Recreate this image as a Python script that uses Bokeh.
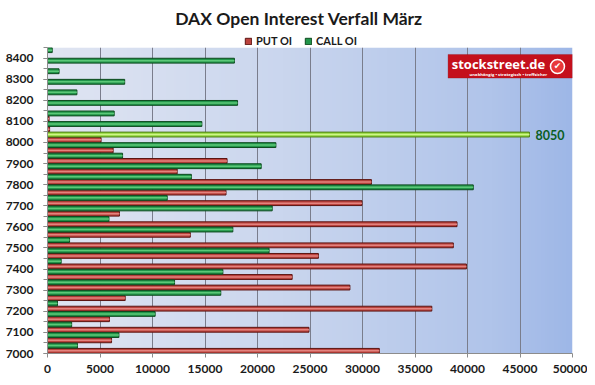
import numpy as np
from bokeh.plotting import figure
from bokeh.layouts import column
from bokeh.models import (ColumnDataSource, FixedTicker, Legend, LegendItem, Label,
                          BoxAnnotation, NumeralTickFormatter, Range1d)
from bokeh.transform import dodge
from bokeh.embed import file_html
from bokeh.resources import INLINE

# ---------------- data ----------------
strikes = [7000, 7050, 7100, 7150, 7200, 7250, 7300, 7350, 7400, 7450,
           7500, 7550, 7600, 7650, 7700, 7750, 7800, 7850, 7900, 7950,
           8000, 8050, 8100, 8150, 8200, 8250, 8300, 8350, 8400, 8450]
put_oi = [31600, 6100, 24900, 5900, 36600, 7400, 28800, 23300, 39900, 25800,
          38650, 13600, 39000, 6850, 29950, 17000, 30850, 12350, 17100, 6250,
          5100, 200, 150, 0, 0, 0, 0, 0, 0, 0]
call_oi = [11800, 2850, 6800, 2300, 10250, 950, 16500, 12100, 16700, 1300,
           21100, 2100, 17650, 5850, 21400, 11400, 40550, 13700, 20350, 7150,
           21750, 45900, 14700, 6350, 18100, 2800, 7350, 1100, 17800, 450]
x_ticks = [0, 5000, 10000, 15000, 20000, 25000, 30000, 35000, 40000, 45000, 50000]
y_label_ticks = [7000, 7100, 7200, 7300, 7400, 7500, 7600, 7700, 7800, 7900,
                 8000, 8100, 8200, 8300, 8400]
title_text = "DAX Open Interest Verfall März"
series_names = ["PUT OI", "CALL OI"]

# ---------------- styling ----------------
FONT = "Lato"
W = 587
BL, BR = 47, 15
HEAD_H = 47
MAIN_H = 330
PUT_FILL, PUT_LINE, PUT_HL = "#bb423d", "#5c1512", "#e3837e"
CALL_FILL, CALL_LINE, CALL_HL = "#22954a", "#0d4a1e", "#5cc878"

max_call = max(call_oi)
max_strike = strikes[call_oi.index(max_call)]
call_fill = ["#8fd43a" if c == max_call else CALL_FILL for c in call_oi]
call_line = ["#4d7d14" if c == max_call else CALL_LINE for c in call_oi]
call_hl = ["#d0f58a" if c == max_call else CALL_HL for c in call_oi]

src = ColumnDataSource(dict(strike=strikes, put=put_oi, call=call_oi,
                            cfill=call_fill, cline=call_line, chl=call_hl))

# ---------------- header (title + legend) ----------------
# frames of a column are aligned, so the header frame spans the same pixels
head = figure(width=W, height=HEAD_H, output_backend="svg", toolbar_location=None,
              x_range=Range1d(BL, W - BR), y_range=Range1d(0, HEAD_H),
              x_axis_type=None, y_axis_type=None,
              min_border_left=BL, min_border_right=BR, min_border_top=0,
              min_border_bottom=0)
head.outline_line_color = None
head.background_fill_color = "white"
head.border_fill_color = "white"
head.grid.grid_line_color = None
head.add_layout(Label(x=298.5, y=HEAD_H - 18, text=title_text, text_font=FONT,
                      text_font_style="bold", text_font_size="17.5px",
                      text_color="#1a1a1a", text_align="center",
                      text_baseline="middle"))
dummy = ColumnDataSource(dict(y=[-100], right=[0]))
lp = head.hbar(y="y", right="right", height=1, source=dummy,
               fill_color=PUT_FILL, line_color=PUT_LINE)
lc = head.hbar(y="y", right="right", height=1, source=dummy,
               fill_color=CALL_FILL, line_color=CALL_LINE)
legend = Legend(items=[LegendItem(label=series_names[0], renderers=[lp]),
                       LegendItem(label=series_names[1], renderers=[lc])],
                orientation="horizontal", location=(244 - BL, 0))
legend.label_text_font = FONT
legend.label_text_font_style = "bold"
legend.label_text_font_size = "11px"
legend.label_text_color = "#1a1a1a"
legend.glyph_width = 8
legend.glyph_height = 8
legend.label_height = 12
legend.spacing = 12
legend.padding = 0
legend.margin = 0
legend.label_standoff = 4
legend.border_line_color = None
legend.background_fill_alpha = 0
head.add_layout(legend)

# ---------------- main chart ----------------
p = figure(width=W, height=MAIN_H, output_backend="svg", toolbar_location=None,
           x_range=Range1d(0, 50000), y_range=Range1d(7000, 8450),
           min_border_left=BL, min_border_right=BR, min_border_top=0,
           min_border_bottom=24)
p.background_fill_color = None
p.border_fill_color = "white"
p.outline_line_color = None

# gradient plot background
ncol = 256
t = np.linspace(0, 1, ncol)
stops = [0, 0.45, 0.85, 1.0]
r = np.interp(t, stops, [224, 202, 176, 158])
g = np.interp(t, stops, [229, 214, 196, 183])
b = np.interp(t, stops, [242, 238, 234, 231])
img = np.zeros((1, ncol), dtype=np.uint32)
view = img.view(dtype=np.uint8).reshape((1, ncol, 4))
view[0, :, 0] = r
view[0, :, 1] = g
view[0, :, 2] = b
view[0, :, 3] = 255
p.image_rgba(image=[img], x=0, y=7000, dw=50000, dh=1450, level="image")

BAR_H = 23
HL_H = 7
p.hbar(y=dodge("strike", 12.5, range=p.y_range), left=0, right="put",
       height=BAR_H, source=src, fill_color=PUT_FILL, line_color=PUT_LINE, line_width=1)
p.hbar(y=dodge("strike", 12.5, range=p.y_range), left=0, right="put",
       height=HL_H, source=src, fill_color=PUT_HL, line_color=None)
p.hbar(y=dodge("strike", -12.5, range=p.y_range), left=0, right="call",
       height=BAR_H, source=src, fill_color="cfill", line_color="cline", line_width=1)
p.hbar(y=dodge("strike", -12.5, range=p.y_range), left=0, right="call",
       height=HL_H, source=src, fill_color="chl", line_color=None)

# highlight label
p.add_layout(Label(x=max_call, y=max_strike - 12.5, x_offset=6, text=str(max_strike),
                   text_font=FONT, text_font_style="bold", text_font_size="12.5px",
                   text_color="#0b5e1f", text_baseline="middle"))

# axes
p.xaxis.ticker = FixedTicker(ticks=x_ticks)
p.xaxis.formatter = NumeralTickFormatter(format="0")
p.yaxis.ticker = FixedTicker(ticks=y_label_ticks, minor_ticks=strikes)
for ax in (p.xaxis[0], p.yaxis[0]):
    ax.major_label_text_font = FONT
    ax.major_label_text_font_style = "bold"
    ax.major_label_text_font_size = "12px"
    ax.major_label_text_color = "#1a1a1a"
    ax.axis_line_color = "#8c8c8c"
    ax.major_tick_line_color = "#8c8c8c"
    ax.minor_tick_line_color = "#8c8c8c"
    ax.major_tick_in = 0
    ax.major_tick_out = 4
    ax.minor_tick_in = 0
    ax.minor_tick_out = 4
p.xaxis.minor_tick_line_color = None
p.yaxis.major_label_standoff = 10
p.xaxis.major_label_standoff = 7

p.xgrid.ticker = FixedTicker(ticks=x_ticks)
p.xgrid.grid_line_color = "#7a7d8c"
p.xgrid.grid_line_width = 1
p.ygrid.grid_line_color = None

# stockstreet logo
p.add_layout(BoxAnnotation(left=38150, right=50000, bottom=8305, top=8417,
                           fill_color="#c4101c", fill_alpha=1.0,
                           line_color="#8a0a10", line_width=1))
p.add_layout(Label(x=38500, y=8372, text="stockstreet.de", text_font="Open Sans",
                   text_font_size="13px", text_font_style="bold", text_color="white",
                   text_baseline="middle"))
p.add_layout(Label(x=40200, y=8322, text="unabhängig • strategisch • treffsicher",
                   text_font="Open Sans", text_font_style="bold", text_font_size="4.2px",
                   text_color="white", text_baseline="middle"))
p.scatter(x=[48570], y=[8360], size=14, marker="circle", fill_color="#e8383a",
          line_color="white", line_width=1.5, level="overlay")
p.add_layout(Label(x=48570, y=8360, text="✔", text_font="DejaVu Sans",
                   text_font_size="9px", text_color="white", text_align="center",
                   text_baseline="middle", level="overlay"))

layout = column(head, p, spacing=0)
open("out.html", "w").write(file_html(layout, INLINE))
